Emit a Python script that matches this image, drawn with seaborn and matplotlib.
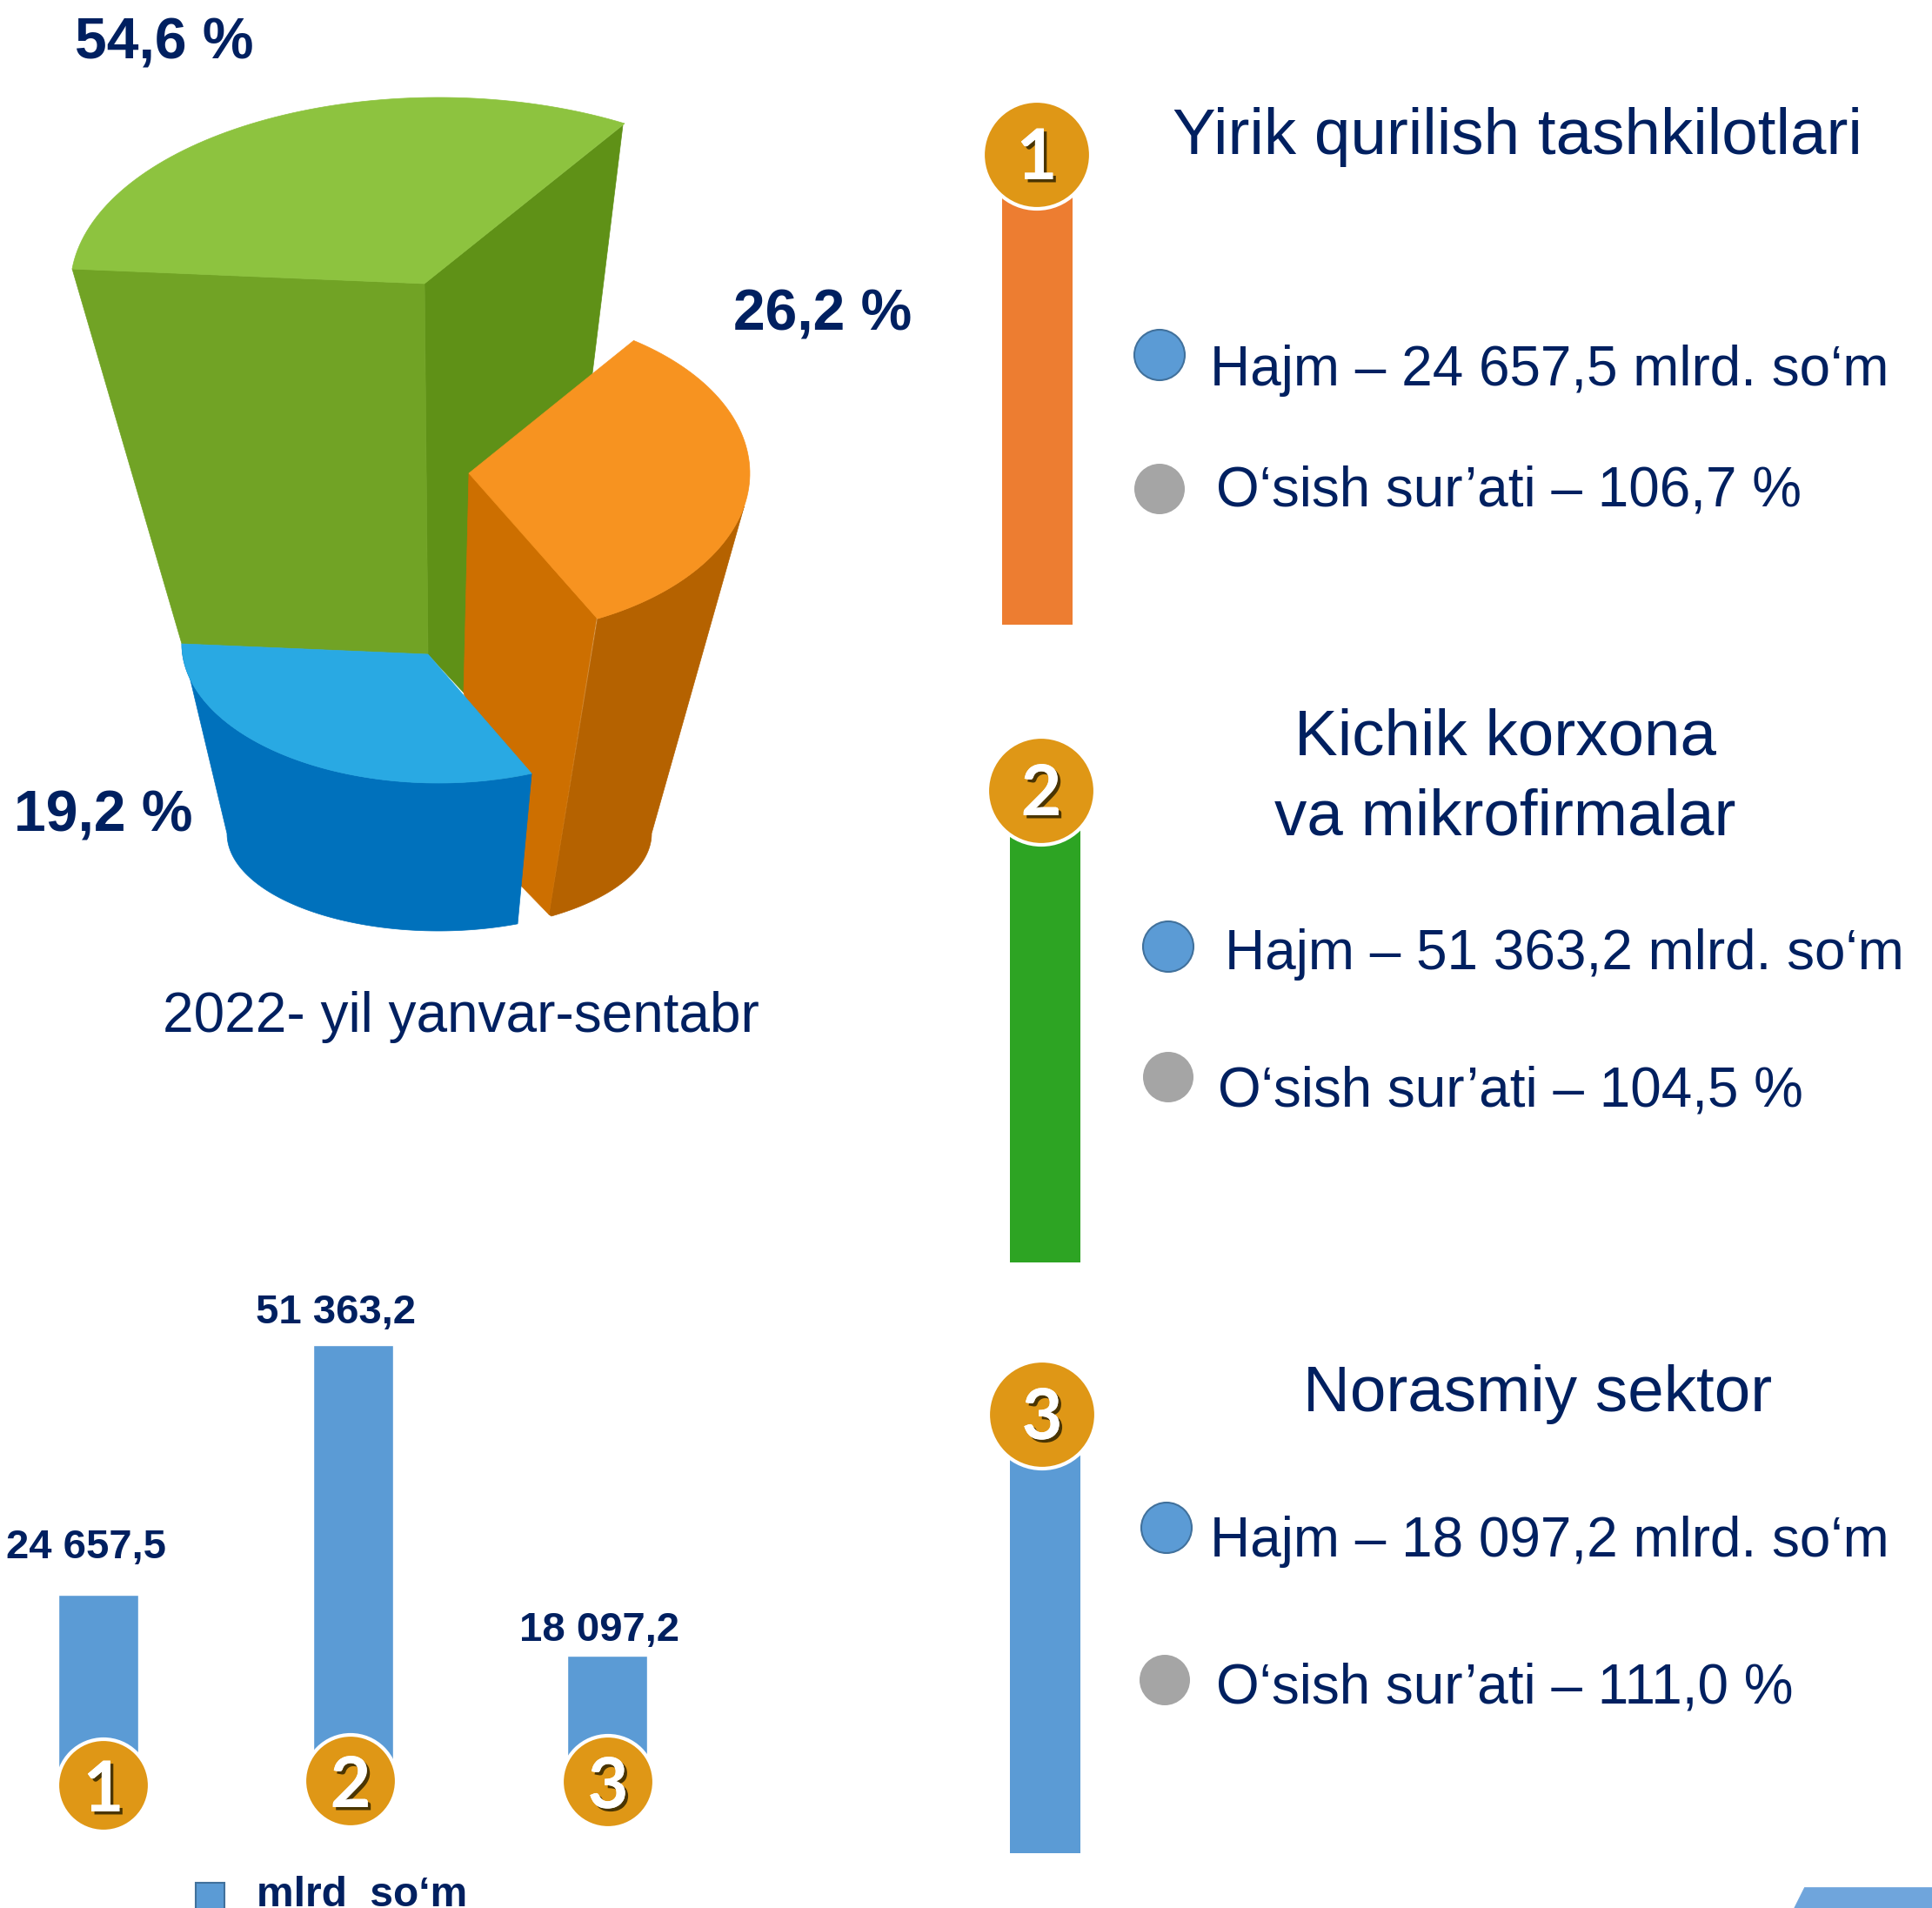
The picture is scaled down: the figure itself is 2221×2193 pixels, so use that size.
import numpy as np
import seaborn as sns
import matplotlib.pyplot as plt
import matplotlib.patheffects as pe
from matplotlib.patches import Polygon, Circle, Rectangle

# data
sectors = ['1', '2', '3']
volumes = [24657.5, 51363.2, 18097.2]
volume_labels = ['24 657,5', '51 363,2', '18 097,2']
growth_labels = ['106,7', '104,5', '111,0']
share_labels = ['54,6 %', '26,2 %', '19,2 %']
title_lines = ['Yirik qurilish tashkilotlari', 'Kichik korxona', 'va mikrofirmalar', 'Norasmiy sektor']

NAVY = '#002060'
GOLD = '#DF9716'
BLUE = '#5B9BD5'
GRAY = '#A5A5A5'

sns.set_theme(style='white')
plt.rcParams['font.family'] = ['Liberation Sans', 'DejaVu Sans']

W, H = 2221, 2193
fig = plt.figure(figsize=(W / 100, H / 100), dpi=100, facecolor='white')


def arc(cx, cy, rx, ry, t0, t1, n=80):
    t = np.radians(np.linspace(t0, t1, n))
    return np.column_stack([cx + rx * np.cos(t), cy - ry * np.sin(t)])


# bar chart (bottom left), axis cut off behind the number circles
y_px_per_unit = 0.010735
base_px = 2097.5
ax_top, ax_bottom = 1400, 2050
x0_px, step_px = 113, 292.5
bar_ax = fig.add_axes([0, 1 - ax_bottom / H, 850 / W, (ax_bottom - ax_top) / H], zorder=1)
sns.barplot(x=sectors, y=volumes, color=BLUE, saturation=1, width=92 / step_px, ax=bar_ax)
bar_ax.set_xlim(-x0_px / step_px, (850 - x0_px) / step_px)
bar_ax.set_ylim((base_px - ax_bottom) / y_px_per_unit, (base_px - ax_top) / y_px_per_unit)
bar_ax.axis('off')

# overlay in pixel coordinates for the picture parts
ax = fig.add_axes([0, 0, 1, 1], zorder=2)
ax.set_xlim(0, W)
ax.set_ylim(H, 0)
ax.axis('off')
ax.patch.set_alpha(0)


def face(points, color, z=3):
    ax.add_patch(Polygon(points, closed=True, facecolor=color, edgecolor=color, lw=0.5, zorder=z))


# 3d pie: green slice
green_arc = arc(504, 330, 423, 218, 59.6, 174.5)
face([(488, 326), (716, 144), (660, 600), (533, 796), (492, 752)], '#5F9117')
face([(83, 309), (488, 326), (492, 752), (209, 740)], '#71A325')
face(np.vstack([[(488, 326)], green_arc]), '#8DC33F')

# orange slice
orange_edge = arc(550, 544, 312, 186, -64, -11.8)
orange_low = arc(504, 958, 245, 112, 0, -58)
face(np.vstack([orange_edge, orange_low, [(631, 1051)]]), '#B56200', 4)
face([(539, 544), (686, 710), (631, 1051), (599, 1018), (533, 796)], '#CD6F00', 4)
face(np.vstack([[(539, 544)], arc(550, 544, 312, 186, 55.1, -64)]), '#F79320', 4)

# blue slice
blue_upper = arc(504, 740, 295, 160, 180, 291.3)
blue_low = arc(504, 958, 243, 112, 292, 180)
face(np.vstack([blue_upper, blue_low]), '#0071BC', 5)
face(np.vstack([[(492, 752)], blue_upper]), '#29A9E3', 5)

# pie labels
for txt, x, y in zip(share_labels, [86, 843, 16], [68, 379, 956]):
    ax.text(x, y, txt, color=NAVY, fontsize=47.5, fontweight='bold', va='baseline', zorder=6)
ax.text(530, 1186, '2022- yil yanvar-sentabr', color=NAVY, fontsize=46, ha='center', va='baseline', zorder=6)

# bar value labels
for txt, x, y in zip(volume_labels, [99, 386, 689], [1791, 1521, 1886]):
    ax.text(x, y, txt, color=NAVY, fontsize=34, fontweight='bold', ha='center', va='baseline', zorder=6)

# bar legend
ax.add_patch(Rectangle((225, 2164), 33, 40, facecolor=BLUE, edgecolor='#41719C', lw=1.5, zorder=6))
ax.text(295, 2191, 'mlrd  so‘m', color=NAVY, fontsize=34.5, fontweight='bold', va='baseline', zorder=6)

# tall columns on the right
ax.add_patch(Rectangle((1152, 178), 81, 540, facecolor='#ED7D31', edgecolor='none', zorder=3))
ax.add_patch(Rectangle((1161, 909), 81, 542, facecolor='#2DA423', edgecolor='none', zorder=3))
ax.add_patch(Rectangle((1161, 1626), 81, 504, facecolor=BLUE, edgecolor='none', zorder=3))


def badge(x, y, r, num, ty):
    ax.add_patch(Circle((x, y), r, facecolor=GOLD, edgecolor='white', lw=3, zorder=7))
    ax.text(x, ty, num, color='white', fontsize=58, fontweight='bold', family=['Lato', 'DejaVu Sans'],
            ha='center', va='center', zorder=8,
            path_effects=[pe.withSimplePatchShadow(offset=(2.5, -2.5), shadow_rgbFace='#3a2a00', alpha=0.9),
                          pe.Normal()])


for x, y, num in zip([1192, 1197, 1198], [178, 909, 1626], sectors):
    badge(x, y, 62, num, y + 5)
for x, y, num in zip([119, 403, 699], [2052, 2047, 2048], sectors):
    badge(x, y, 53, num, y + 7)

# titles
ax.text(1744, 177, title_lines[0], color=NAVY, fontsize=53.7, ha='center', va='baseline', zorder=6)
ax.text(1730, 868, title_lines[1], color=NAVY, fontsize=53.7, ha='center', va='baseline', zorder=6)
ax.text(1730, 960, title_lines[2], color=NAVY, fontsize=53.7, ha='center', va='baseline', zorder=6)
ax.text(1768, 1622, title_lines[3], color=NAVY, fontsize=53.7, ha='center', va='baseline', zorder=6)

# volume and growth rows
hajm_x = [1391, 1408, 1391]
hajm_y = [443, 1114, 1789]
osish_x = [1398, 1400, 1398]
osish_y = [581, 1272, 1957]
blue_dots = [(1333, 408), (1343, 1088), (1341, 1756)]
gray_dots = [(1333, 562), (1343, 1238), (1339, 1931)]
for i in range(3):
    ax.text(hajm_x[i], hajm_y[i], f'Hajm – {volume_labels[i]} mlrd. so‘m', color=NAVY, fontsize=46,
            va='baseline', zorder=6)
    ax.text(osish_x[i], osish_y[i], f'O‘sish sur’ati – {growth_labels[i]} %', color=NAVY, fontsize=46,
            va='baseline', zorder=6)
    ax.add_patch(Circle(blue_dots[i], 29, facecolor=BLUE, edgecolor='#41719C', lw=1.5, zorder=6))
    ax.add_patch(Circle(gray_dots[i], 29, facecolor=GRAY, edgecolor='none', zorder=6))

# corner shape bottom right
face([(2074, 2169), (W, 2169), (W, H), (2062, H)], '#6FA5DC', 6)

fig.savefig('out.png', dpi=100)
